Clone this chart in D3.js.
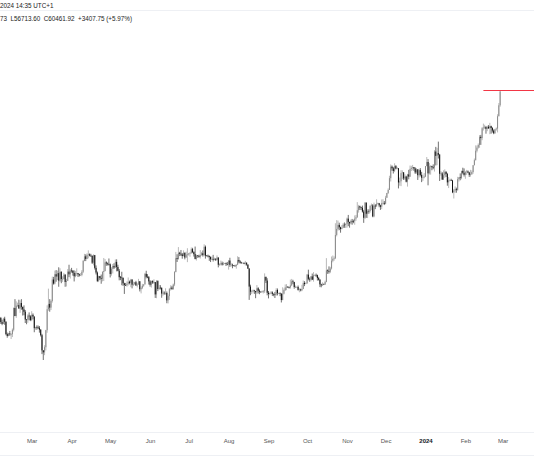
<!DOCTYPE html>
<html><head><meta charset="utf-8">
<script src="https://cdn.jsdelivr.net/npm/d3@7"></script>
<style>body{margin:0;background:#fff}svg{display:block}</style>
</head><body>
<svg id="chart" width="534" height="462"></svg>
<script>
// Daily BTC/USD candles, values in thousands of USD, first candle 2023-02-03
const startDate = "2023-02-03";
const opens = [
23.73,23.43,23.33,22.93,22.76,23.26,22.96,21.80,21.63,21.86,21.78,21.79,22.20,24.33,23.52,24.57,24.63,24.28,24.84,24.44,24.18,23.95,23.18,23.16,23.56,23.49,
23.13,23.64,23.47,22.35,22.43,22.41,22.39,22.20,21.70,20.36,20.19,20.63,22.16,24.20,24.75,24.37,25.05,27.42,26.96,28.04,27.77,28.17,27.30,28.33,27.48,27.49,27.99,27.14,27.27,28.35,28.03,
28.48,28.45,28.20,27.80,28.17,28.17,28.03,27.91,27.95,28.33,29.65,30.23,29.90,30.39,30.49,30.32,30.31,29.43,30.38,28.80,28.24,27.26,27.82,27.59,27.51,28.30,28.42,29.47,29.34,29.25,
29.23,28.07,28.68,29.03,28.85,29.53,28.90,28.45,27.69,27.65,27.62,26.99,26.80,26.78,26.93,27.17,27.03,27.40,26.83,26.89,27.11,26.75,26.85,27.22,26.33,26.48,26.72,26.87,28.08,27.74,27.70,
27.21,26.82,27.25,27.07,27.12,25.76,27.24,26.35,26.50,26.48,25.85,25.94,25.90,25.92,25.12,25.58,26.34,26.51,26.34,26.85,28.31,30.00,29.89,30.69,30.55,30.47,30.27,30.70,30.08,30.45,
30.47,30.59,30.62,31.16,30.77,30.51,29.90,30.35,30.29,30.17,30.41,30.62,30.39,31.47,30.32,30.30,30.25,30.14,29.86,29.91,29.80,29.91,29.80,30.08,29.18,29.23,29.35,29.21,29.32,29.36,29.28,
29.23,29.70,29.17,29.18,29.10,29.05,29.04,29.18,29.77,29.58,29.43,29.40,29.42,29.30,29.43,29.20,28.70,26.62,26.05,26.10,26.19,26.12,25.99,26.43,26.16,26.05,26.00,26.09,26.10,27.73,27.30,
25.94,25.80,25.87,25.97,25.82,25.79,25.75,26.24,25.90,25.90,25.84,25.16,25.84,26.23,26.53,26.60,26.57,26.53,26.76,27.21,27.13,26.57,26.58,26.58,26.25,26.30,26.21,26.35,27.03,26.91,
26.97,27.99,27.50,27.43,27.78,27.41,27.93,27.96,27.93,27.59,27.39,26.87,26.76,26.86,26.85,27.15,28.50,28.42,28.33,28.72,29.68,29.92,29.99,33.07,33.92,34.50,34.16,33.91,34.09,34.53,34.49,
34.66,35.42,34.94,34.73,35.08,35.05,35.04,35.42,35.62,36.70,37.30,37.14,37.07,36.49,35.55,37.88,36.16,36.59,36.57,37.36,37.45,35.76,37.42,37.29,37.72,37.79,37.45,37.24,37.83,37.85,
37.71,38.68,39.46,39.97,41.99,44.08,43.77,43.29,44.17,43.72,43.79,41.24,41.45,42.89,43.02,41.94,42.28,41.37,42.66,42.27,43.65,43.86,43.99,43.73,43.01,43.58,42.52,43.44,42.58,42.07,42.14,
42.28,44.18,44.95,42.85,44.15,44.16,43.97,43.93,46.97,46.12,46.66,46.35,42.78,42.84,41.73,42.51,43.15,42.74,41.26,41.62,41.67,41.58,39.56,39.88,40.08,39.95,41.82,42.12,42.03,43.30,42.95,
42.58,43.08,43.19,43.00,42.58,42.70,43.09,44.34,45.29,47.13,47.75,48.29,49.96,49.70,51.80,51.94,52.14,51.66,52.12,51.78,52.26,51.85,51.30,50.73,51.57,51.73,54.48,57.05
];
const highs = [
23.96,23.59,23.43,23.16,23.35,23.45,23.01,21.94,21.91,22.09,21.88,22.32,24.38,25.25,25.02,24.88,25.19,25.12,25.25,24.47,24.60,24.13,23.22,23.69,23.88,23.60,
24.00,23.78,23.48,22.48,22.61,22.60,22.55,22.27,21.82,20.37,20.80,22.19,24.60,26.39,25.25,25.20,27.76,27.73,28.47,28.53,28.47,28.87,28.75,28.38,27.80,28.20,28.04,27.50,28.65,29.18,28.65,
28.80,28.53,28.49,28.44,28.75,28.19,28.10,28.17,28.53,29.77,30.55,30.49,30.62,31.00,30.61,30.55,30.32,30.49,30.41,29.10,28.37,27.88,27.82,28.00,28.40,30.02,29.89,29.60,29.46,29.96,
29.34,28.88,29.27,29.37,29.84,29.85,29.18,28.66,27.83,28.33,27.65,27.05,27.03,27.20,27.66,27.30,27.50,27.48,27.18,27.15,27.27,27.05,27.50,27.23,26.64,26.93,26.88,28.20,28.45,28.05,27.83,
27.35,27.30,27.34,27.45,27.14,27.36,27.34,26.80,26.78,26.53,26.20,26.09,26.43,26.08,25.75,26.47,26.77,26.70,26.96,28.40,30.80,30.50,31.43,30.81,31.05,30.66,31.00,30.70,30.83,31.28,
30.66,30.79,31.38,31.33,30.88,31.50,30.45,30.38,30.44,31.04,30.80,30.99,31.80,31.64,30.40,30.45,30.34,30.23,30.19,30.42,30.06,29.99,30.35,30.10,29.36,29.69,29.57,29.53,29.41,29.45,29.53,
29.74,30.05,29.41,29.31,29.12,29.17,29.24,30.24,30.13,29.72,29.54,29.46,29.45,29.66,29.47,29.23,28.78,26.83,26.26,26.29,26.26,26.14,26.79,26.55,26.31,26.10,26.17,26.23,28.14,27.76,27.57,
26.13,25.97,26.13,26.09,25.86,26.03,26.44,26.41,25.94,25.98,25.88,26.54,26.40,26.86,26.89,26.67,26.62,27.41,27.49,27.39,27.16,26.74,26.64,26.74,26.43,26.39,26.82,27.31,27.23,27.09,
28.07,28.58,27.67,27.83,28.12,28.29,28.00,28.12,27.99,27.73,27.48,26.94,27.10,26.97,27.29,30.00,28.61,28.98,28.92,30.21,30.34,30.22,34.74,35.20,35.13,34.82,34.24,34.48,34.75,34.86,34.72,
35.58,35.98,34.95,35.28,35.38,35.27,35.90,35.98,37.97,37.53,37.41,37.23,37.42,36.75,37.98,37.93,36.85,36.85,37.54,37.75,37.65,37.89,37.65,38.43,37.89,37.84,37.56,38.40,38.43,38.15,
38.99,39.48,40.22,42.42,44.49,44.30,44.04,44.70,44.37,44.03,43.80,42.10,43.43,43.40,43.09,42.70,42.43,42.76,43.49,44.28,44.24,44.40,43.99,43.95,43.80,43.60,43.68,43.80,43.12,42.60,42.90,
44.18,45.90,45.50,44.73,44.34,44.23,44.50,47.25,47.90,47.70,48.97,46.50,43.26,43.08,43.40,43.58,43.20,42.93,42.19,41.88,41.89,41.69,40.13,40.56,40.35,42.23,42.20,42.84,43.31,43.88,43.75,
43.29,43.48,43.38,43.12,43.49,43.40,44.37,45.61,48.20,48.17,48.59,50.33,50.37,52.04,52.82,52.57,52.17,52.37,52.49,52.99,52.37,52.03,51.55,51.68,51.96,54.94,57.59,60.71
];
const lows = [
23.24,23.25,22.75,22.63,22.73,22.67,21.69,21.47,21.60,21.64,21.35,21.53,22.05,23.51,23.34,24.44,24.25,23.84,24.15,23.57,23.60,22.84,22.72,22.86,23.10,23.02,
23.02,23.20,21.97,22.20,22.20,22.27,21.93,21.58,20.04,19.55,19.95,20.36,21.92,24.04,23.95,24.12,24.89,26.84,26.87,27.17,27.36,26.60,27.15,27.00,27.15,27.43,26.60,26.63,27.24,27.70,27.53,
28.23,27.87,27.20,27.68,27.83,27.71,27.77,27.88,27.80,28.17,29.61,29.63,29.87,29.97,30.23,30.16,29.27,29.10,28.60,28.01,27.13,27.13,27.36,26.94,27.21,27.25,28.38,29.05,29.08,29.08,
27.66,27.87,28.13,28.67,28.80,28.38,28.38,27.33,27.35,26.77,26.70,25.81,26.70,26.60,26.73,26.87,26.55,26.42,26.67,26.82,26.70,26.53,26.81,26.08,25.87,26.34,26.60,26.84,27.56,27.57,26.85,
26.61,26.51,26.92,26.95,25.38,25.35,26.12,26.25,26.30,25.40,25.62,25.72,25.72,24.82,24.80,25.17,26.18,26.27,26.26,26.67,28.26,29.52,29.81,30.26,30.27,29.93,30.22,29.85,30.04,29.50,
30.32,30.17,30.58,30.64,30.20,29.85,29.70,30.04,30.06,29.95,30.29,30.20,30.25,29.94,30.25,30.09,29.66,29.51,29.77,29.58,29.73,29.64,29.73,28.86,29.05,29.10,29.08,29.12,29.26,29.03,29.11,
28.59,28.92,28.96,28.75,28.99,28.98,28.70,29.13,29.36,29.31,29.35,29.36,29.25,29.08,29.06,28.70,25.17,25.67,25.80,25.97,25.81,25.35,25.80,25.86,25.78,25.96,25.96,25.86,25.92,27.02,25.66,
25.33,25.72,25.81,25.60,25.56,25.37,25.61,25.65,25.80,25.57,24.90,25.13,25.76,26.13,26.22,26.47,26.40,26.39,26.67,26.89,26.38,26.47,26.50,26.17,25.99,26.09,26.11,26.34,26.67,26.89,
26.95,27.33,27.16,27.22,27.36,27.18,27.84,27.72,27.30,27.30,26.56,26.54,26.70,26.81,26.81,27.11,28.08,28.12,28.17,28.60,29.48,29.68,29.88,32.88,33.69,33.75,33.39,33.86,34.04,34.08,34.06,
34.10,34.32,34.10,34.58,34.53,34.75,34.52,35.11,35.55,36.33,36.73,36.72,36.34,34.80,35.36,35.54,35.51,36.16,36.33,36.71,35.63,35.63,36.87,37.25,37.60,37.16,36.75,36.87,37.61,37.50,
37.62,38.65,39.28,39.96,41.41,43.33,42.82,43.08,43.58,43.59,40.22,40.68,40.61,41.82,41.67,41.69,41.25,40.53,41.79,42.21,43.27,43.40,43.31,42.75,42.77,41.68,42.10,42.31,41.30,41.52,41.97,
42.18,44.15,40.75,42.63,42.62,43.42,43.60,43.18,44.30,44.35,45.61,41.50,42.44,41.72,41.72,42.05,42.20,40.68,40.28,41.45,41.50,39.43,38.55,39.48,39.50,39.82,41.40,41.62,41.80,42.68,42.28,
41.88,42.57,42.88,42.22,42.26,42.57,42.79,44.33,45.24,46.80,47.55,47.71,48.30,49.26,51.31,51.62,50.63,51.17,51.68,50.52,50.63,50.88,50.52,50.59,51.28,50.90,54.46,56.71
];
const closes = [
23.43,23.33,22.93,22.76,23.26,22.96,21.80,21.63,21.86,21.78,21.79,22.20,24.33,23.52,24.57,24.63,24.28,24.84,24.44,24.18,23.95,23.18,23.16,23.56,23.49,23.13,
23.64,23.47,22.35,22.43,22.41,22.39,22.20,21.70,20.36,20.19,20.63,22.16,24.20,24.75,24.37,25.05,27.42,26.96,28.04,27.77,28.17,27.30,28.33,27.48,27.49,27.99,27.14,27.27,28.35,28.03,28.48,
28.45,28.20,27.80,28.17,28.17,28.03,27.91,27.95,28.33,29.65,30.23,29.90,30.39,30.49,30.32,30.31,29.43,30.38,28.80,28.24,27.26,27.82,27.59,27.51,28.30,28.42,29.47,29.34,29.25,29.23,
28.07,28.68,29.03,28.85,29.53,28.90,28.45,27.69,27.65,27.62,26.99,26.80,26.78,26.93,27.17,27.03,27.40,26.83,26.89,27.11,26.75,26.85,27.22,26.33,26.48,26.72,26.87,28.08,27.74,27.70,27.21,
26.82,27.25,27.07,27.12,25.76,27.24,26.35,26.50,26.48,25.85,25.94,25.90,25.92,25.12,25.58,26.34,26.51,26.34,26.85,28.31,30.00,29.89,30.69,30.55,30.47,30.27,30.70,30.08,30.45,30.47,
30.59,30.62,31.16,30.77,30.51,29.90,30.35,30.29,30.17,30.41,30.62,30.39,31.47,30.32,30.30,30.25,30.14,29.86,29.91,29.80,29.91,29.80,30.08,29.18,29.23,29.35,29.21,29.32,29.36,29.28,29.23,
29.70,29.17,29.18,29.10,29.05,29.04,29.18,29.77,29.58,29.43,29.40,29.42,29.30,29.43,29.20,28.70,26.62,26.05,26.10,26.19,26.12,25.99,26.43,26.16,26.05,26.00,26.09,26.10,27.73,27.30,25.94,
25.80,25.87,25.97,25.82,25.79,25.75,26.24,25.90,25.90,25.84,25.16,25.84,26.23,26.53,26.60,26.57,26.53,26.76,27.21,27.13,26.57,26.58,26.58,26.25,26.30,26.21,26.35,27.03,26.91,26.97,
27.99,27.50,27.43,27.78,27.41,27.93,27.96,27.93,27.59,27.39,26.87,26.76,26.86,26.85,27.15,28.50,28.42,28.33,28.72,29.68,29.92,29.99,33.07,33.92,34.50,34.16,33.91,34.09,34.53,34.49,34.66,
35.42,34.94,34.73,35.08,35.05,35.04,35.42,35.62,36.70,37.30,37.14,37.07,36.49,35.55,37.88,36.16,36.59,36.57,37.36,37.45,35.76,37.42,37.29,37.72,37.79,37.45,37.24,37.83,37.85,37.71,
38.68,39.46,39.97,41.99,44.08,43.77,43.29,44.17,43.72,43.79,41.24,41.45,42.89,43.02,41.94,42.28,41.37,42.66,42.27,43.65,43.86,43.99,43.73,43.01,43.58,42.52,43.44,42.58,42.07,42.14,42.28,
44.18,44.95,42.85,44.15,44.16,43.97,43.93,46.97,46.12,46.66,46.35,42.78,42.84,41.73,42.51,43.15,42.74,41.26,41.62,41.67,41.58,39.56,39.88,40.08,39.95,41.82,42.12,42.03,43.30,42.95,42.58,
43.08,43.19,43.00,42.58,42.70,43.09,44.34,45.29,47.13,47.75,48.29,49.96,49.70,51.80,51.94,52.14,51.66,52.12,51.78,52.26,51.85,51.30,50.73,51.57,51.73,54.48,57.05,60.46
];
const headerLine1 = "2024 14:35 UTC+1";
const headerLine2 = "73  L56713.60  C60461.92  +3407.75 (+5.97%)";
const redLineStart = "2024-02-15";
const redLinePrice = 60.71;

const svg = d3.select("#chart");
const W = 534, H = 462;
const parse = d3.utcParse("%Y-%m-%d");
const t0 = parse(startDate);
const data = closes.map((c, i) => ({
  date: d3.utcDay.offset(t0, i), o: opens[i], h: highs[i], l: lows[i], c: c
}));

const x = d3.scaleUtc()
  .domain([parse("2023-03-01"), parse("2024-03-01")])
  .range([31.7, 502.7]);
const y = d3.scaleLog()
  .domain([19.55, 60.71])
  .range([360, 90.5]);

svg.append("rect").attr("width", W).attr("height", H).attr("fill", "#ffffff");

// separator lines
const sep = [10.5, 432.5, 455.5];
svg.selectAll("line.sep").data(sep).join("line").attr("class", "sep")
  .attr("x1", 0).attr("x2", W).attr("y1", d => d).attr("y2", d => d)
  .attr("stroke", "#eef0f4").attr("stroke-width", 1);

// header
svg.append("text").attr("x", 0).attr("y", 8).text(headerLine1)
  .attr("font-family", "Liberation Sans, Arial, sans-serif").attr("font-size", 6.3)
  .attr("fill", "#222").style("white-space", "pre");
svg.append("text").attr("x", 0).attr("y", 20.5).text(headerLine2)
  .attr("font-family", "Liberation Sans, Arial, sans-serif").attr("font-size", 6.3)
  .attr("fill", "#222").attr("xml:space", "preserve").style("white-space", "pre");

// candles
const up = "#8a8a8a", down = "#111111";
const g = svg.append("g");
const cg = g.selectAll("g.c").data(data).join("g").attr("class", "c");
cg.append("line")
  .attr("x1", d => x(d.date)).attr("x2", d => x(d.date))
  .attr("y1", d => y(d.h)).attr("y2", d => y(d.l))
  .attr("stroke", d => d.c >= d.o ? up : down).attr("stroke-width", 0.6);
cg.append("rect")
  .attr("x", d => x(d.date) - 0.5).attr("width", 1)
  .attr("y", d => y(Math.max(d.o, d.c)))
  .attr("height", d => Math.max(0.6, y(Math.min(d.o, d.c)) - y(Math.max(d.o, d.c))))
  .attr("fill", d => d.c >= d.o ? up : down);

// red horizontal line
svg.append("line")
  .attr("x1", x(parse(redLineStart))).attr("x2", W)
  .attr("y1", y(redLinePrice)).attr("y2", y(redLinePrice))
  .attr("stroke", "#f23645").attr("stroke-width", 1);

// time axis
const axis = d3.axisBottom(x)
  .ticks(d3.utcMonth.every(1))
  .tickSize(0).tickPadding(0)
  .tickFormat(d => d.getUTCMonth() === 0 ? d3.utcFormat("%Y")(d) : d3.utcFormat("%b")(d));
const ax = svg.append("g").attr("transform", "translate(0,438)").call(axis);
ax.select(".domain").remove();
ax.selectAll("text")
  .attr("dy", 0).attr("y", 5)
  .attr("font-family", "Liberation Sans, Arial, sans-serif").attr("font-size", 6)
  .attr("fill", d => d.getUTCMonth() === 0 ? "#131722" : "#555")
  .attr("font-weight", d => d.getUTCMonth() === 0 ? "bold" : "normal");
</script>
</body></html>
